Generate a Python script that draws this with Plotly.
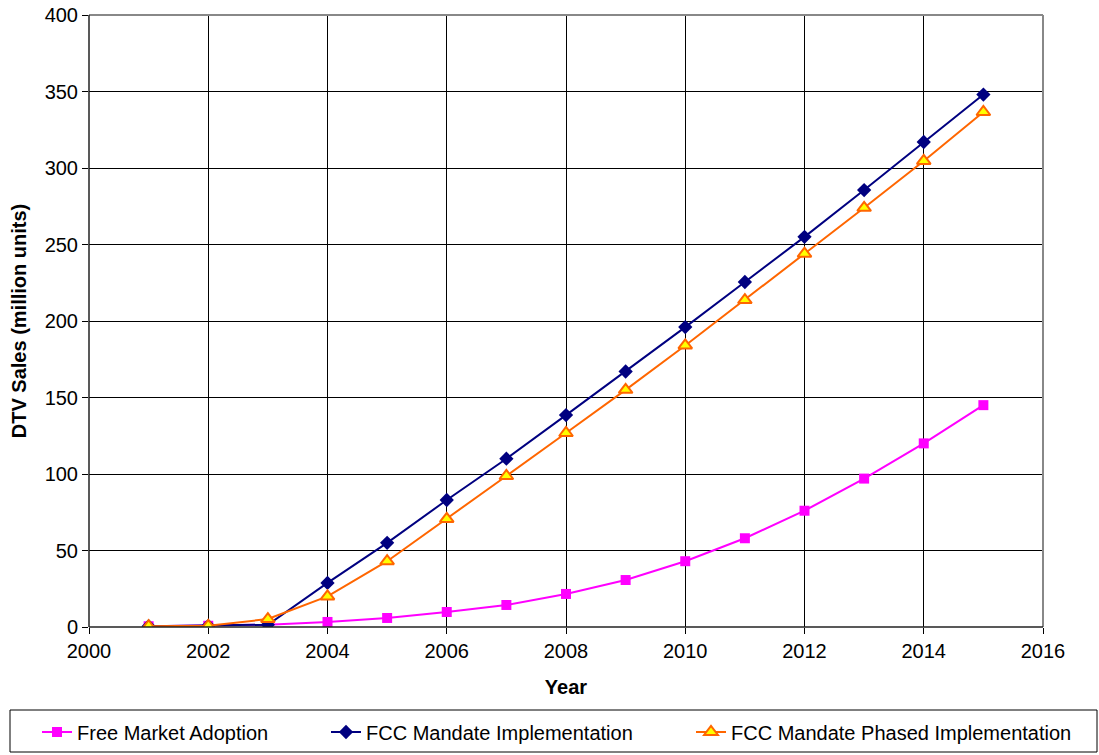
import plotly.graph_objects as go

years = list(range(2001, 2016))
free_market = [0.5, 0.8, 1.5, 3.3, 5.9, 9.8, 14.4, 21.6, 30.7, 43, 58, 76, 97, 120, 145]
fcc_mandate = [0.5, 0.8, 1.5, 28.8, 55, 83, 110, 138.5, 167, 196, 225.5, 255, 285.6, 317, 348]
fcc_phased = [0.5, 0.8, 5.2, 20, 43, 70.6, 98.7, 126.8, 155, 184, 213.7, 244, 274, 304.6, 336.6]

names = ["Free Market Adoption", "FCC Mandate Implementation", "FCC Mandate Phased Implementation"]

fig = go.Figure()
fig.add_trace(go.Scatter(
    x=years, y=free_market, name=names[0], mode="lines+markers",
    line=dict(color="#FF00FF", width=2),
    marker=dict(symbol="square", size=10, color="#FF00FF"),
    legend="legend", showlegend=True))
fig.add_trace(go.Scatter(
    x=years, y=fcc_mandate, name=names[1], mode="lines+markers",
    line=dict(color="#000080", width=2),
    marker=dict(symbol="diamond", size=11, color="#000080"),
    legend="legend2", showlegend=True))
fig.add_trace(go.Scatter(
    x=years, y=fcc_phased, name=names[2], mode="lines+markers",
    line=dict(color="#FF6600", width=2),
    marker=dict(symbol="triangle-up", size=12, color="#FFFF00",
                line=dict(color="#FF6600", width=2)),
    legend="legend3", showlegend=True))

font = dict(family="Liberation Sans, Arial, sans-serif", size=20, color="black")
W, H = 1099, 755
L, R, T, B = 89, 1043, 15, 627
pw, ph = R - L, B - T

def leg(px):
    return dict(x=px / W, xref="container", y=1 - 732 / H, yref="container",
                yanchor="middle", xanchor="left", orientation="h",
                bgcolor="rgba(0,0,0,0)", font=font, borderwidth=0)

def px_x(p):
    return (p - L) / pw

def px_y(p):
    return (B - p) / ph

fig.update_layout(
    width=W, height=H,
    showlegend=True,
    margin=dict(l=L, r=W - R, t=T, b=H - B, autoexpand=False),
    paper_bgcolor="white", plot_bgcolor="white",
    font=font,
    legend=leg(37), legend2=leg(326), legend3=leg(691),
    xaxis=dict(range=[2000, 2016], dtick=2, tick0=2000,
               showgrid=True, gridcolor="black", gridwidth=1,
               showline=False,
               ticks="outside", ticklen=6, tickcolor="black",
               zeroline=False, automargin=False,
               title=dict(text="<b>Year</b>", font=font, standoff=18)),
    yaxis=dict(range=[0, 400], dtick=50,
               showgrid=True, gridcolor="black", gridwidth=1,
               showline=False,
               ticks="outside", ticklen=6, tickcolor="black",
               zeroline=False, automargin=False,
               title=dict(text="<b>DTV Sales (million units)</b>", font=font, standoff=12)),
    shapes=[
        dict(type="line", xref="paper", yref="paper", x0=0, x1=1, y0=1, y1=1,
             line=dict(color="#888888", width=2)),
        dict(type="line", xref="paper", yref="paper", x0=1, x1=1, y0=0, y1=1,
             line=dict(color="#888888", width=2)),
        dict(type="line", xref="paper", yref="paper", x0=0, x1=0, y0=0, y1=1,
             line=dict(color="#222222", width=1.5)),
        dict(type="line", xref="paper", yref="paper", x0=0, x1=1, y0=0, y1=0,
             line=dict(color="#222222", width=1.5)),
        dict(type="rect", xref="paper", yref="paper",
             x0=px_x(10), x1=px_x(1097), y0=px_y(752), y1=px_y(710),
             line=dict(color="black", width=1), fillcolor="rgba(0,0,0,0)"),
    ],
)

fig.write_html("out.html", config={"displayModeBar": False},
               post_script="document.body.style.margin='0';")
